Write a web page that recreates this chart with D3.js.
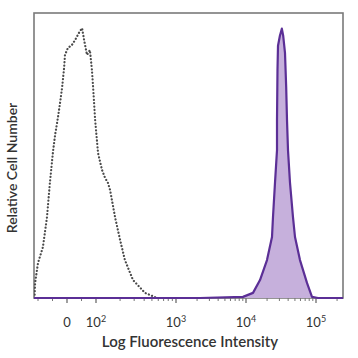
<!DOCTYPE html>
<html>
<head>
<meta charset="utf-8">
<script src="https://cdn.jsdelivr.net/npm/d3@7"></script>
<style>
  html, body { margin: 0; padding: 0; background: #fff; }
  svg { display: block; }
  text { font-family: Lato, "Open Sans", sans-serif; fill: #333; }
</style>
</head>
<body>
<svg id="chart" width="358" height="358"></svg>
<script>
// ---- data (fluorescence intensity, relative count) ----
const controlIntensity = [-112, -110, -100, -83, -69, -59, -48, -41, -31, -24, -17, -10, -7, 3, 17, 28, 41, 52, 59, 69, 79, 86, 90, 97, 106, 119, 130, 141, 150, 173, 200, 230, 290, 410, 579, 841];
const controlCount     = [0, 5.3, 12.3, 17.9, 28.4, 40.4, 51.6, 57.2, 63.5, 68.4, 73.7, 80.7, 85.3, 87.7, 88.8, 90.5, 93.0, 94.7, 90.5, 85.3, 87.0, 80.0, 74.0, 62.5, 50.9, 44.9, 42.1, 40.4, 37.9, 28.4, 20.4, 13.3, 6.3, 1.8, 0, 0];

const stainedIntensity = [-114, 2203, 9060, 12590, 15850, 19950, 23520, 24300, 25950, 27730, 27730, 28180, 28650, 30500, 32500, 34000, 36060, 37500, 38520, 39810, 42530, 46900, 50120, 59050, 74340, 87660, 106800, 262144];
const stainedCount     = [0, 0, 0.4, 1.8, 6.3, 13.3, 21.4, 28.4, 40.4, 51.9, 62.5, 80, 88.5, 92, 94.5, 92, 86, 74, 62.5, 51.9, 40.4, 28.4, 21.4, 13.3, 5.3, 0.4, 0, 0];

const majorTicks = [0, 100, 1000, 10000, 100000];
const majorLabels = [["0", ""], ["10", "2"], ["10", "3"], ["10", "4"], ["10", "5"]];
const minorTicks = [-100, -50, 50, 200, 300, 400, 500, 600, 700, 800, 900,
  2000, 3000, 4000, 5000, 6000, 7000, 8000, 9000,
  20000, 30000, 40000, 50000, 60000, 70000, 80000, 90000, 200000];

const xTitle = "Log Fluorescence Intensity";
const yTitle = "Relative Cell Number";

// ---- layout ----
const svg = d3.select("#chart");
const L = 34, R = 343, T = 13, B = 298;

// display transform: linear below 100, log10 above
const tf = v => v >= 100 ? Math.log10(v) : 1 + v / 100;
const xs = d3.scaleLinear().domain([1, 2, 3, 5]).range([67, 96, 176, 316]);
const x = v => xs(tf(v));
const y = d3.scaleLinear().domain([0, 100]).range([B, T]);

svg.append("clipPath").attr("id", "plotclip")
  .append("rect").attr("x", L).attr("y", T - 2).attr("width", R - L).attr("height", B - T + 4);

// frame
svg.append("rect")
  .attr("x", L).attr("y", T).attr("width", R - L).attr("height", B - T)
  .attr("fill", "none").attr("stroke", "#7a7a7a").attr("stroke-width", 1.6);

// ticks
const tickG = svg.append("g").attr("stroke", "#777");
tickG.selectAll("line.minor").data(minorTicks).join("line")
  .attr("class", "minor")
  .attr("x1", d => x(d)).attr("x2", d => x(d))
  .attr("y1", B).attr("y2", B + 3).attr("stroke-width", 1);
tickG.selectAll("line.major").data(majorTicks).join("line")
  .attr("class", "major")
  .attr("x1", d => x(d)).attr("x2", d => x(d))
  .attr("y1", B).attr("y2", B + 5).attr("stroke-width", 1.4);

// tick labels
const lab = svg.append("g").selectAll("text").data(majorTicks).join("text")
  .attr("x", d => x(d)).attr("y", 327)
  .attr("text-anchor", "middle")
  .attr("font-size", 13);
lab.each(function(d, i) {
  const t = d3.select(this);
  t.append("tspan").text(majorLabels[i][0]);
  if (majorLabels[i][1]) {
    t.append("tspan").attr("dy", -5).attr("font-size", 9).text(majorLabels[i][1]);
  }
});

// control histogram (dotted)
const line = d3.line().x(d => x(d[0])).y(d => y(d[1]));
const controlData = controlIntensity.map((v, i) => [v, controlCount[i]]);
svg.append("path")
  .datum(controlData)
  .attr("clip-path", "url(#plotclip)")
  .attr("d", line)
  .attr("fill", "none")
  .attr("stroke", "#4a4a4a")
  .attr("stroke-width", 2.2)
  .attr("stroke-linecap", "round")
  .attr("stroke-dasharray", "0.1,3.3");

// stained histogram (filled)
const stainedData = stainedIntensity.map((v, i) => [v, stainedCount[i]]);
const area = d3.area().x(d => x(d[0])).y0(B).y1(d => y(d[1]));
const pg = svg.append("g").attr("clip-path", "url(#plotclip)");
pg.append("path").datum(stainedData).attr("d", area)
  .attr("fill", "#c6b0dc");
pg.append("path").datum(stainedData).attr("d", line)
  .attr("fill", "none").attr("stroke", "#5b2f96").attr("stroke-width", 2.2)
  .attr("stroke-linejoin", "round");

// titles
svg.append("text")
  .attr("x", 190).attr("y", 347)
  .attr("text-anchor", "middle")
  .attr("font-size", 15).attr("font-weight", 600)
  .attr("fill", "#333")
  .text(xTitle);
svg.append("text")
  .attr("transform", "translate(17,168) rotate(-90)")
  .attr("text-anchor", "middle")
  .attr("font-size", 14).attr("font-weight", 600)
  .text(yTitle);
</script>
</body>
</html>
